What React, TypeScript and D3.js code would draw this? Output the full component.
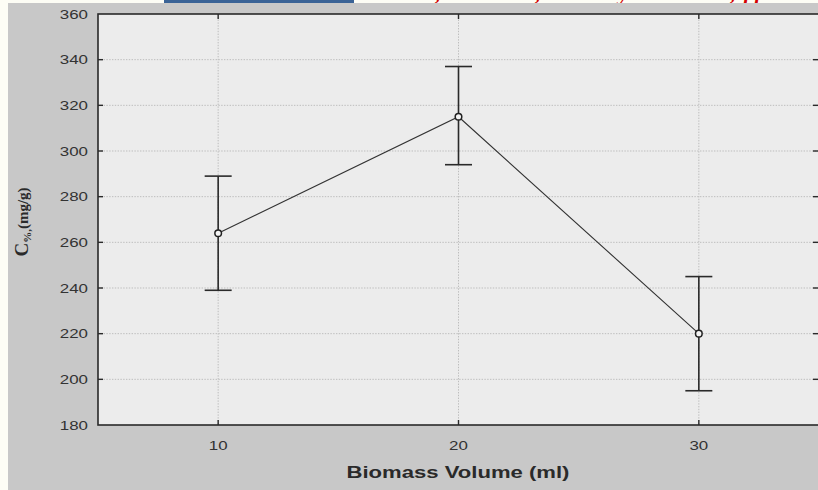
import React from "react";
import * as d3 from "d3";

// Biomass volume (ml) and measured capacity (mg/g) with error ranges
const volumes = [10, 20, 30];
const meanValues = [264, 315, 220];
const upperValues = [289, 337, 245];
const lowerValues = [239, 294, 195];
const xTicks = [10, 20, 30];
const yTicks = [180, 200, 220, 240, 260, 280, 300, 320, 340, 360];

const W = 818;
const H = 490;
const plot = { left: 98, right: 819, top: 14, bottom: 425 };
const stretch = 1.3;

export default function App() {
  const x = d3.scaleLinear().domain([5, 35]).range([plot.left, plot.right]);
  const y = d3.scaleLinear().domain([180, 360]).range([plot.bottom, plot.top]);
  const line = d3
    .line<number>()
    .x((_, i) => x(volumes[i]))
    .y((d) => y(d));
  const pts = volumes.map((v, i) => ({
    v,
    m: meanValues[i],
    hi: upperValues[i],
    lo: lowerValues[i],
  }));
  const tickLen = 5;
  const capHalf = 13.5;
  const dark = "#2a2a2a";
  const sans = "Liberation Sans, Arial, sans-serif";
  const serif = "Liberation Serif, Times New Roman, serif";

  // running header of the page, mostly above the visible area
  const header = [
    { t: "Vol. 4,", x: 441, anchor: "end" },
    { t: "No. 1,", x: 541, anchor: "end" },
    { t: "January-June 2014,", x: 736, anchor: "end" },
    { t: "pp", x: 744, anchor: "start" },
  ];

  return (
    <svg
      width={W}
      height={H}
      style={{ position: "absolute", left: 0, top: 0, display: "block" }}
    >
      <rect x={0} y={0} width={W} height={H} fill="#fdfdf5" />
      <rect x={164} y={0} width={190} height={3} fill="#3a6396" />
      {header.map((h, i) => (
        <text
          key={i}
          x={h.x}
          y={-0.5}
          textAnchor={h.anchor as any}
          fontFamily={serif}
          fontWeight="bold"
          fontStyle="italic"
          fontSize={22}
          fill="#d40000"
        >
          {h.t}
        </text>
      ))}
      <rect x={8} y={3} width={W - 8} height={H - 3} fill="#c8c8c8" />

      {/* plot area */}
      <rect
        x={plot.left}
        y={plot.top}
        width={plot.right - plot.left}
        height={plot.bottom - plot.top}
        fill="#ececec"
      />

      {/* dotted grid */}
      {yTicks.slice(1, -1).map((t) => (
        <line
          key={"gy" + t}
          x1={plot.left}
          x2={plot.right}
          y1={y(t)}
          y2={y(t)}
          stroke="#bdbdbd"
          strokeWidth={1}
          strokeDasharray="1.4,1.4"
        />
      ))}
      {xTicks.map((t) => (
        <line
          key={"gx" + t}
          x1={x(t)}
          x2={x(t)}
          y1={plot.top}
          y2={plot.bottom}
          stroke="#bdbdbd"
          strokeWidth={1}
          strokeDasharray="1.4,1.4"
        />
      ))}

      {/* frame */}
      <rect
        x={plot.left}
        y={plot.top}
        width={plot.right - plot.left}
        height={plot.bottom - plot.top}
        fill="none"
        stroke={dark}
        strokeWidth={1.6}
      />

      {/* inward ticks */}
      {yTicks.slice(1, -1).map((t) => (
        <g key={"ty" + t}>
          <line x1={plot.left} x2={plot.left + tickLen} y1={y(t)} y2={y(t)} stroke={dark} strokeWidth={1.4} />
          <line x1={plot.right - 1 - tickLen} x2={plot.right} y1={y(t)} y2={y(t)} stroke={dark} strokeWidth={1.4} />
        </g>
      ))}
      {xTicks.map((t) => (
        <g key={"tx" + t}>
          <line x1={x(t)} x2={x(t)} y1={plot.top} y2={plot.top + tickLen} stroke={dark} strokeWidth={1.4} />
          <line x1={x(t)} x2={x(t)} y1={plot.bottom} y2={plot.bottom - tickLen} stroke={dark} strokeWidth={1.4} />
        </g>
      ))}

      {/* y tick labels */}
      {yTicks.map((t) => (
        <text
          key={"ly" + t}
          transform={`translate(88,${y(t) + 4.5}) scale(${stretch},1)`}
          textAnchor="end"
          fontFamily={sans}
          fontSize={13}
          fill="#333"
        >
          {t}
        </text>
      ))}

      {/* x tick labels */}
      {xTicks.map((t) => (
        <text
          key={"lx" + t}
          transform={`translate(${x(t)},${450}) scale(${stretch},1)`}
          textAnchor="middle"
          fontFamily={sans}
          fontSize={13}
          fill="#333"
        >
          {t}
        </text>
      ))}

      {/* axis titles */}
      <text
        transform={`translate(458,478) scale(${stretch},1)`}
        textAnchor="middle"
        fontFamily={sans}
        fontSize={17}
        fontWeight="bold"
        fill="#2a2a2a"
      >
        Biomass Volume (ml)
      </text>
      <text
        transform="translate(28,222) rotate(-90)"
        textAnchor="middle"
        fontFamily={serif}
        fontWeight="bold"
        fill="#2a2a2a"
      >
        <tspan fontSize={19}>C</tspan>
        <tspan fontSize={11} dy={3}>%,</tspan>
        <tspan fontSize={15} dy={-3}>(mg/g)</tspan>
      </text>

      {/* mean line */}
      <path d={line(meanValues) || ""} fill="none" stroke="#333" strokeWidth={1.1} />

      {/* error bars */}
      {pts.map((p) => (
        <g key={"e" + p.v} stroke={dark} strokeWidth={1.6}>
          <line x1={x(p.v)} x2={x(p.v)} y1={y(p.hi)} y2={y(p.lo)} />
          <line x1={x(p.v) - capHalf} x2={x(p.v) + capHalf} y1={y(p.hi)} y2={y(p.hi)} />
          <line x1={x(p.v) - capHalf} x2={x(p.v) + capHalf} y1={y(p.lo)} y2={y(p.lo)} />
        </g>
      ))}

      {/* markers */}
      {pts.map((p) => (
        <circle
          key={"c" + p.v}
          cx={x(p.v)}
          cy={y(p.m)}
          r={3.3}
          fill="#f4f4f4"
          stroke="#222"
          strokeWidth={1.5}
        />
      ))}
    </svg>
  );
}
